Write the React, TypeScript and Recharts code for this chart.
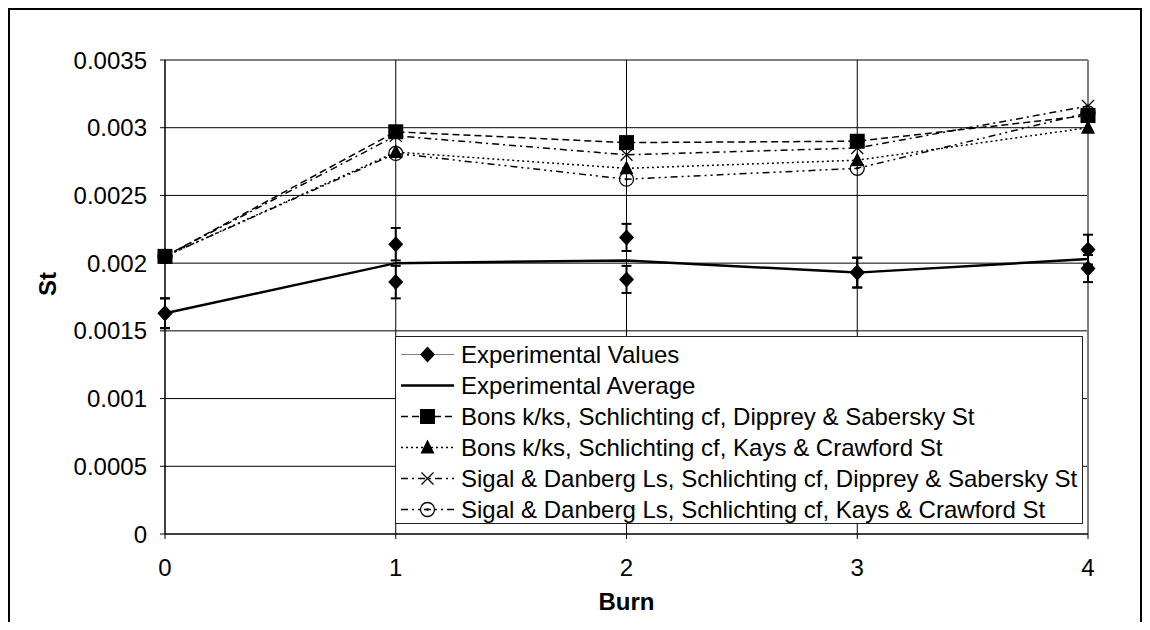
import React from "react";
import {
  CartesianGrid,
  ComposedChart,
  ErrorBar,
  Label,
  Legend,
  Line,
  ReferenceLine,
  Scatter,
  XAxis,
  YAxis,
} from "recharts";

// burn number on the x axis
const burns = [0, 1, 2, 3, 4];
const yTicks = [0, 0.0005, 0.001, 0.0015, 0.002, 0.0025, 0.003, 0.0035];

// experimental points (two runs per burn) and their error
const expBurn = [0, 0, 1, 1, 2, 2, 3, 3, 4, 4];
const expSt = [0.00163, 0.00163, 0.00214, 0.00186, 0.00219, 0.00188, 0.00193, 0.00193, 0.0021, 0.00196];
const expErr = [0.00011, 0.00011, 0.00012, 0.00012, 0.0001, 0.0001, 0.00011, 0.00011, 0.00011, 0.0001];

const expAverage = [0.00163, 0.002, 0.00202, 0.00193, 0.00203];
const bonsDipprey = [0.00205, 0.00297, 0.00289, 0.0029, 0.00309];
const bonsKays = [0.00205, 0.00282, 0.0027, 0.00276, 0.003];
const sigalDipprey = [0.00205, 0.00294, 0.0028, 0.00285, 0.00316];
const sigalKays = [0.00205, 0.00281, 0.00262, 0.0027, 0.00311];

const seriesNames = [
  "Experimental Values",
  "Experimental Average",
  "Bons k/ks, Schlichting cf, Dipprey & Sabersky St",
  "Bons k/ks, Schlichting cf, Kays & Crawford St",
  "Sigal & Danberg Ls, Schlichting cf, Dipprey & Sabersky St",
  "Sigal & Danberg Ls, Schlichting cf, Kays & Crawford St",
];

const lineData = burns.map((b, i) => ({
  burn: b,
  avg: expAverage[i],
  bd: bonsDipprey[i],
  bk: bonsKays[i],
  sd: sigalDipprey[i],
  sk: sigalKays[i],
}));

const expData = expBurn.map((b, i) => ({ burn: b, st: expSt[i], err: expErr[i] }));

type MarkerKind = "diamond" | "square" | "triangle" | "cross" | "circle" | "none";

const Marker = ({ kind, cx, cy }: { kind: MarkerKind; cx: number; cy: number }) => {
  if (kind === "diamond") {
    return <polygon points={`${cx},${cy - 8} ${cx + 7.5},${cy} ${cx},${cy + 8} ${cx - 7.5},${cy}`} fill="#000" />;
  }
  if (kind === "square") {
    return <rect x={cx - 7.5} y={cy - 7.5} width={15} height={15} fill="#000" />;
  }
  if (kind === "triangle") {
    return <polygon points={`${cx},${cy - 8} ${cx + 7},${cy + 6} ${cx - 7},${cy + 6}`} fill="#000" />;
  }
  if (kind === "cross") {
    return (
      <g stroke="#000" strokeWidth={1.3}>
        <line x1={cx - 6} y1={cy - 6} x2={cx + 6} y2={cy + 6} />
        <line x1={cx - 6} y1={cy + 6} x2={cx + 6} y2={cy - 6} />
      </g>
    );
  }
  if (kind === "circle") {
    return (
      <g>
        <circle cx={cx} cy={cy} r={7} fill="none" stroke="#000" strokeWidth={1.3} />
        <circle cx={cx} cy={cy} r={1.3} fill="#000" />
      </g>
    );
  }
  return null;
};

const legendStyles: { kind: MarkerKind; color: string; width: number; dash?: string }[] = [
  { kind: "diamond", color: "#808080", width: 1 },
  { kind: "none", color: "#000", width: 2.5 },
  { kind: "square", color: "#000", width: 1.5, dash: "7 4" },
  { kind: "triangle", color: "#000", width: 1.5, dash: "2 3" },
  { kind: "cross", color: "#000", width: 1.5, dash: "7 4 2 4" },
  { kind: "circle", color: "#000", width: 1.5, dash: "7 4 2 4 2 4" },
];

const renderLegend = () => (
  <div
    style={{
      width: 688,
      height: 188,
      boxSizing: "border-box",
      border: "1px solid #222",
      background: "#fff",
      paddingTop: 2,
    }}
  >
    {seriesNames.map((name, i) => {
      const s = legendStyles[i];
      return (
        <div key={name} style={{ display: "flex", alignItems: "center", height: 31 }}>
          <svg width={65} height={31} style={{ flex: "none" }}>
            <line x1={5} y1={15.5} x2={58} y2={15.5} stroke={s.color} strokeWidth={s.width} strokeDasharray={s.dash} />
            <Marker kind={s.kind} cx={31.5} cy={15.5} />
          </svg>
          <span style={{ fontSize: 24, lineHeight: "31px", whiteSpace: "nowrap" }}>{name}</span>
        </div>
      );
    })}
  </div>
);

const dotOf = (kind: MarkerKind) => (p: any) => <Marker key={`${kind}-${p.index}`} kind={kind} cx={p.cx} cy={p.cy} />;

export default function App() {
  return (
    <div style={{ position: "relative", width: 1134, height: 614, fontFamily: "'Liberation Sans', Arial, sans-serif" }}>
      <style>{"body{overflow:hidden}"}</style>
      <div
        style={{
          position: "absolute",
          left: 0,
          top: 0,
          width: 1134,
          height: 640,
          boxSizing: "border-box",
          borderLeft: "2px solid #000",
          borderTop: "2px solid #000",
          borderRight: "2px solid #000",
          pointerEvents: "none",
        }}
      />
      <div style={{ position: "absolute", left: 0, top: 0 }}>
        <ComposedChart width={1134} height={622} data={lineData} margin={{ top: 52, right: 54, left: 0, bottom: 46 }}>
          <CartesianGrid stroke="#000" strokeWidth={1} />
          <XAxis
            type="number"
            dataKey="burn"
            domain={[0, 4]}
            ticks={burns}
            height={50}
            stroke="#000"
            tickSize={5}
            tickMargin={20}
            tick={{ fill: "#000", fontSize: 24 }}
          >
            <Label
              content={({ viewBox }: any) => (
                <text x={viewBox.x + viewBox.width / 2} y={viewBox.y + 76} textAnchor="middle" fontSize={24} fontWeight="bold" fill="#000">
                  Burn
                </text>
              )}
            />
          </XAxis>
          <YAxis
            type="number"
            domain={[0, 0.0035]}
            ticks={yTicks}
            width={157}
            stroke="#000"
            tickSize={5}
            tickMargin={13}
            tick={{ fill: "#000", fontSize: 24 }}
          >
            <Label
              content={({ viewBox }: any) => {
                const x = 39;
                const y = viewBox.y + viewBox.height / 2 - 13;
                return (
                  <text x={x} y={y} transform={`rotate(-90, ${x}, ${y})`} textAnchor="middle" dominantBaseline="central" fontSize={24} fontWeight="bold" fill="#000">
                    St
                  </text>
                );
              }}
            />
          </YAxis>
          <ReferenceLine x={4} stroke="#808080" strokeWidth={2} />
          <Scatter data={expData} dataKey="st" name={seriesNames[0]} shape={(p: any) => <Marker kind="diamond" cx={p.cx} cy={p.cy} />} isAnimationActive={false}>
            <ErrorBar dataKey="err" direction="y" width={5} stroke="#000" strokeWidth={2} />
          </Scatter>
          <Line dataKey="avg" name={seriesNames[1]} stroke="#000" strokeWidth={2.5} dot={false} activeDot={false} isAnimationActive={false} />
          <Line dataKey="bd" name={seriesNames[2]} stroke="#000" strokeWidth={1.5} strokeDasharray="7 4" dot={dotOf("square")} activeDot={false} isAnimationActive={false} />
          <Line dataKey="bk" name={seriesNames[3]} stroke="#000" strokeWidth={1.5} strokeDasharray="2 3" dot={dotOf("triangle")} activeDot={false} isAnimationActive={false} />
          <Line dataKey="sd" name={seriesNames[4]} stroke="#000" strokeWidth={1.5} strokeDasharray="7 4 2 4" dot={dotOf("cross")} activeDot={false} isAnimationActive={false} />
          <Line dataKey="sk" name={seriesNames[5]} stroke="#000" strokeWidth={1.5} strokeDasharray="7 4 2 4 2 4" dot={dotOf("circle")} activeDot={false} isAnimationActive={false} />
          <Legend
            layout="vertical"
            align="center"
            verticalAlign="middle"
            wrapperStyle={{ left: 387, top: 328, width: 688, height: 188 }}
            content={renderLegend}
          />
        </ComposedChart>
      </div>
    </div>
  );
}
